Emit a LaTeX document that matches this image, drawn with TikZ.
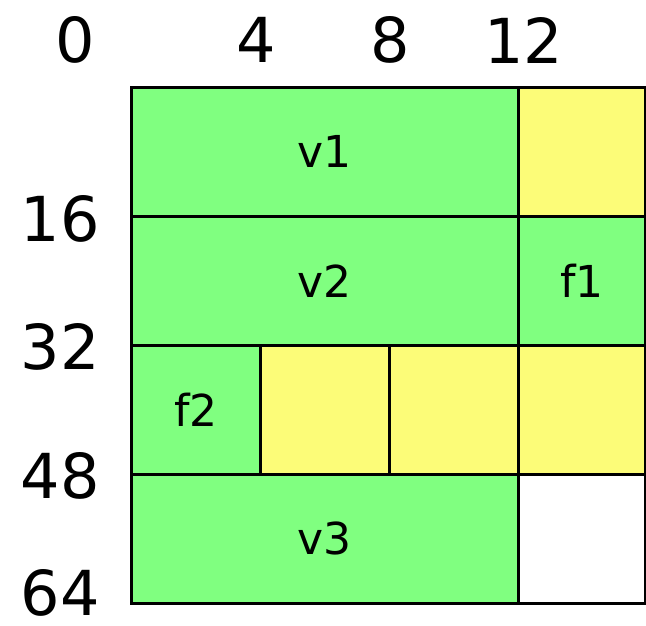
\documentclass[tikz,border=0pt]{standalone}
\usepackage{fontspec}
\setmainfont{DejaVu Sans}
\definecolor{cgreen}{HTML}{80FF80}
\definecolor{cyellow}{HTML}{FCFC78}
\begin{document}
\begin{tikzpicture}[x=1pt,y=-1pt,
  cell/.style={draw=black, line width=2.6pt, anchor=north west, inner sep=0pt,
    minimum height=129pt, font=\fontsize{44}{44}\selectfont},
  one/.style={cell, minimum width=129pt},
  edge/.style={cell, minimum width=127pt},
  three/.style={cell, minimum width=387pt},
  num/.style={inner sep=0pt, font=\fontsize{62}{62}\selectfont}]
\useasboundingbox (0,0) rectangle (646,626);
\node[three, fill=cgreen] (v1) at (130,86) {v1};
\node[edge, fill=cyellow] (y1) at (517,86) {};
\node[three, fill=cgreen] (v2) at (130,215) {v2};
\node[edge, fill=cgreen] (f1) at (517,215) {f1};
\node[one, fill=cgreen] (f2) at (130,344) {f2};
\node[one, fill=cyellow] (y2) at (259,344) {};
\node[one, fill=cyellow] (y3) at (388,344) {};
\node[edge, fill=cyellow] (y4) at (517,344) {};
\node[three, fill=cgreen] (v3) at (130,473) {v3};
\node[edge, fill=white] (w1) at (517,473) {};
\node[num] (n0) at (75,40) {0};
\node[num] (n4) at (256,40) {4};
\node[num] (n8) at (390,40) {8};
\node[num] (n12) at (524,40) {12};
\node[num, anchor=east] (n16) at (100,219) {16};
\node[num, anchor=east] (n32) at (100,347) {32};
\node[num, anchor=east] (n48) at (100,476) {48};
\node[num, anchor=east] (n64) at (100,593) {64};
\end{tikzpicture}
\end{document}
